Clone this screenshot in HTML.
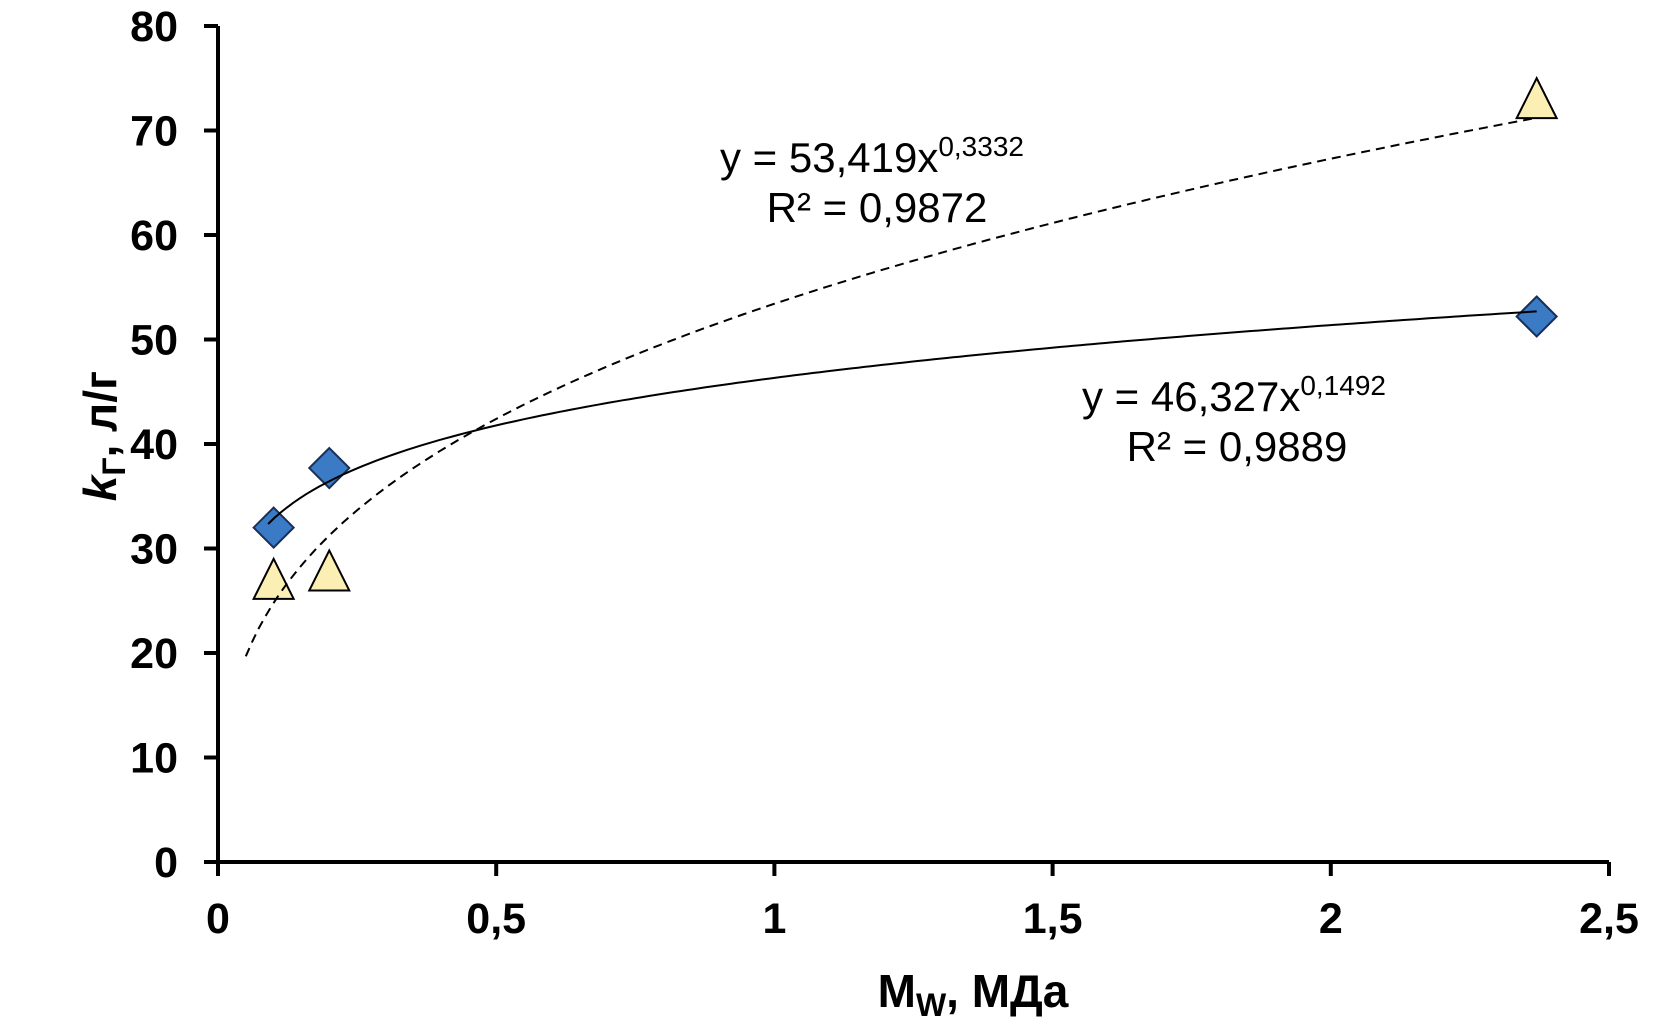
<!DOCTYPE html>
<html><head><meta charset="utf-8"><style>
html,body{margin:0;padding:0;background:#fff;}
svg{display:block;}
text{font-family:"Liberation Sans",sans-serif;}
</style></head><body>
<svg id="chart" width="1668" height="1025" xmlns="http://www.w3.org/2000/svg">
<g id="axes"></g>
<g id="trends"></g>
<g id="marks"></g>
<text x="720" y="172" font-size="42">y = 53,419x<tspan font-size="28" dy="-16">0,3332</tspan></text>
<text x="877" y="222" font-size="42" text-anchor="middle">R² = 0,9872</text>
<text x="1082" y="411" font-size="42">y = 46,327x<tspan font-size="28" dy="-16">0,1492</tspan></text>
<text x="1237" y="461" font-size="42" text-anchor="middle">R² = 0,9889</text>
<text transform="translate(116,436) rotate(-90)" font-size="46" font-weight="bold" text-anchor="middle"><tspan font-style="italic">k</tspan><tspan font-size="32" dy="9">Г</tspan><tspan dy="-9">, л/г</tspan></text>
<text x="973" y="1007" font-size="46" font-weight="bold" text-anchor="middle">M<tspan font-size="32" dy="9">W</tspan><tspan dy="-9">, МДа</tspan></text>
</svg>
<script>
const xTicks=[0,0.5,1,1.5,2,2.5];
const xTickLabels=["0","0,5","1","1,5","2","2,5"];
const yTicks=[0,10,20,30,40,50,60,70,80];
const yTickLabels=["0","10","20","30","40","50","60","70","80"];
const diamondX=[0.1,0.2,2.37];
const diamondY=[32,37.7,52.2];
const triangleX=[0.1,0.2,2.37];
const triangleY=[27,27.8,73];
const fitDiamond=[46.327,0.1492];
const fitTriangle=[53.419,0.3332];
const fitDiamondRange=[0.09,2.37];
const fitTriangleRange=[0.05,2.37];

const X0=218,X1=1609,Y0=862,Y1=26;
const sx=v=>X0+(v-0)/(2.5-0)*(X1-X0);
const sy=v=>Y0-(v-0)/(80-0)*(Y0-Y1);
const NS="http://www.w3.org/2000/svg";
function mk(tag,parent,attrs){const e=document.createElementNS(NS,tag);for(const k in attrs)e.setAttribute(k,attrs[k]);parent.appendChild(e);return e;}
const axes=document.getElementById('axes');
let e=mk('line',axes,{x1:X0,y1:Y1,x2:X0,y2:Y0,stroke:'#000','stroke-width':4});


e=mk('line',axes,{x1:X0,y1:Y0,x2:X1,y2:Y0,stroke:'#000','stroke-width':4});


yTicks.forEach((v,i)=>{
  const t=mk('line',axes,{x1:X0-14,y1:sy(v),x2:X0,y2:sy(v),stroke:'#000','stroke-width':4});
  
  
  const l=mk('text',axes,{x:178,y:sy(v)+15,'font-size':43,'font-weight':'bold','text-anchor':'end'});
  l.textContent=yTickLabels[i];
  
  
});
xTicks.forEach((v,i)=>{
  const t=mk('line',axes,{x1:sx(v),y1:Y0,x2:sx(v),y2:Y0+14,stroke:'#000','stroke-width':4});
  
  
  const l=mk('text',axes,{x:sx(v),y:933,'font-size':43,'font-weight':'bold','text-anchor':'middle'});
  l.textContent=xTickLabels[i];
  
  
});
const marks=document.getElementById('marks');
triangleX.forEach((v,i)=>{
  const cx=sx(v),cy=sy(triangleY[i]);
  const p=mk('polygon',marks,{points:`${cx},${cy-21} ${cx-20},${cy+19} ${cx+20},${cy+19}`,fill:'#fcefb4',stroke:'#000','stroke-width':2});
  
  
});
diamondX.forEach((v,i)=>{
  const cx=sx(v),cy=sy(diamondY[i]);
  const p=mk('polygon',marks,{points:`${cx},${cy-20} ${cx+20},${cy} ${cx},${cy+20} ${cx-20},${cy}`,fill:'#3b7bc6',stroke:'#1a2f55','stroke-width':2});
  
  
});
function curve(fit,range){let d='';const n=200;for(let i=0;i<=n;i++){const x=range[0]+(range[1]-range[0])*i/n;const y=fit[0]*Math.pow(x,fit[1]);d+=(i?'L':'M')+sx(x).toFixed(1)+','+sy(y).toFixed(1);}return d;}
const c1=mk('path',marks,{d:curve(fitTriangle,fitTriangleRange),fill:'none',stroke:'#000','stroke-width':2,'stroke-dasharray':'9,6'});


const c2=mk('path',marks,{d:curve(fitDiamond,fitDiamondRange),fill:'none',stroke:'#000','stroke-width':2});


</script>
</body></html>
